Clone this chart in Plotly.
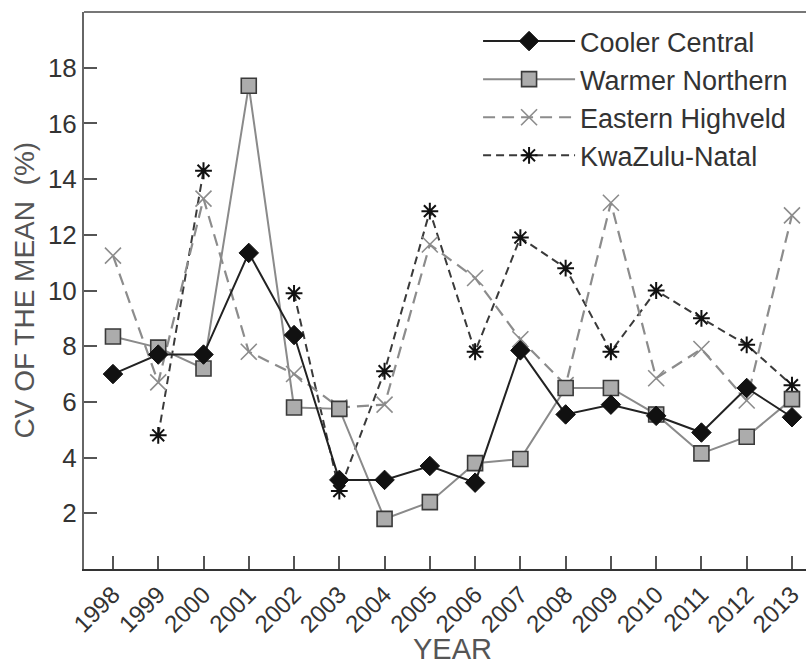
import plotly.graph_objects as go

years = list(range(1998, 2014))
cooler_central = [7.0, 7.7, 7.7, 11.35, 8.4, 3.2, 3.2, 3.7, 3.1, 7.85, 5.55, 5.9, 5.5, 4.9, 6.5, 5.45]
warmer_northern = [8.35, 7.95, 7.2, 17.35, 5.8, 5.75, 1.8, 2.4, 3.8, 3.95, 6.5, 6.5, 5.55, 4.15, 4.75, 6.1]
eastern_highveld = [11.25, 6.7, 13.3, 7.8, 7.0, 5.8, 5.9, 11.65, 10.45, 8.25, 6.6, 13.15, 6.85, 7.9, 6.05, 12.7]
kwazulu_natal = [None, 4.8, 14.3, None, 9.9, 2.8, 7.1, 12.85, 7.8, 11.9, 10.8, 7.8, 10.0, 9.0, 8.05, 6.6]
y_ticks = [2, 4, 6, 8, 10, 12, 14, 16, 18]

FONT = "Arial, Liberation Sans, sans-serif"

fig = go.Figure()
fig.add_trace(go.Scatter(
    x=years, y=kwazulu_natal, name="KwaZulu-Natal", mode="lines+markers",
    connectgaps=False,
    line=dict(color="#3a3a3a", width=2, dash="8px,5px"),
    marker=dict(symbol="asterisk-open", size=14, color="#111", line=dict(color="#111", width=2)),
))
fig.add_trace(go.Scatter(
    x=years, y=eastern_highveld, name="Eastern Highveld", mode="lines+markers",
    line=dict(color="#8c8c8c", width=2.2, dash="12px,7px"),
    marker=dict(symbol="x-thin-open", size=16, color="#8c8c8c", line=dict(color="#8c8c8c", width=1.6)),
))
fig.add_trace(go.Scatter(
    x=years, y=warmer_northern, name="Warmer Northern", mode="lines+markers",
    line=dict(color="#8a8a8a", width=2),
    marker=dict(symbol="square", size=15, color="#acacac", line=dict(color="#3a3a3a", width=1.6)),
))
fig.add_trace(go.Scatter(
    x=years, y=cooler_central, name="Cooler Central", mode="lines+markers",
    line=dict(color="#222", width=2),
    marker=dict(symbol="diamond", size=15, color="#111", line=dict(color="#111", width=1)),
))

fig.update_layout(
    width=806, height=664,
    margin=dict(l=84, r=0, t=12, b=95, autoexpand=False),
    paper_bgcolor="white", plot_bgcolor="white",
    font=dict(family=FONT, color="#333"),
    showlegend=True,
    legend=dict(
        x=0.5458, y=0.991, xanchor="left", yanchor="top",
        traceorder="reversed",
        font=dict(family=FONT, size=27, color="#333"),
        itemwidth=92, bgcolor="rgba(255,255,255,0.9)",
        tracegroupgap=0,
    ),
    xaxis=dict(
        range=[1997.36, 2013.31], automargin=False,
        tickmode="array", tickvals=years, ticktext=[str(y) for y in years],
        tickangle=-45, ticks="inside", ticklen=13, tickwidth=2, tickcolor="#555",
        showline=True, linecolor="#333", linewidth=2,
        showgrid=False, zeroline=False,
        tickfont=dict(family=FONT, size=24, color="#333"),
    ),
    yaxis=dict(
        range=[0, 20], automargin=False,
        tickmode="array", tickvals=y_ticks,
        ticks="inside", ticklen=13, tickwidth=2, tickcolor="#555",
        showline=True, linecolor="#666", linewidth=2,
        showgrid=False, zeroline=False,
        tickfont=dict(family=FONT, size=26, color="#333"),
    ),
    shapes=[
        dict(type="line", xref="paper", yref="paper", x0=0, x1=1, y0=1, y1=1,
             line=dict(color="#777", width=2)),
    ],
    annotations=[
        dict(text="YEAR", xref="paper", yref="paper", x=(452 - 84) / 722, y=-(649 - 569) / 557,
             xanchor="center", yanchor="middle", showarrow=False,
             font=dict(family=FONT, size=29, color="#555")),
        dict(text="CV OF THE MEAN  (%)", xref="paper", yref="paper", x=(24 - 84) / 722, y=0.5,
             xanchor="center", yanchor="middle", textangle=-90, showarrow=False,
             font=dict(family=FONT, size=28, color="#555")),
    ],
)

fig.write_html("out.html", config={"displayModeBar": False},
               post_script="document.body.style.margin='0px';document.body.style.overflow='hidden';")
